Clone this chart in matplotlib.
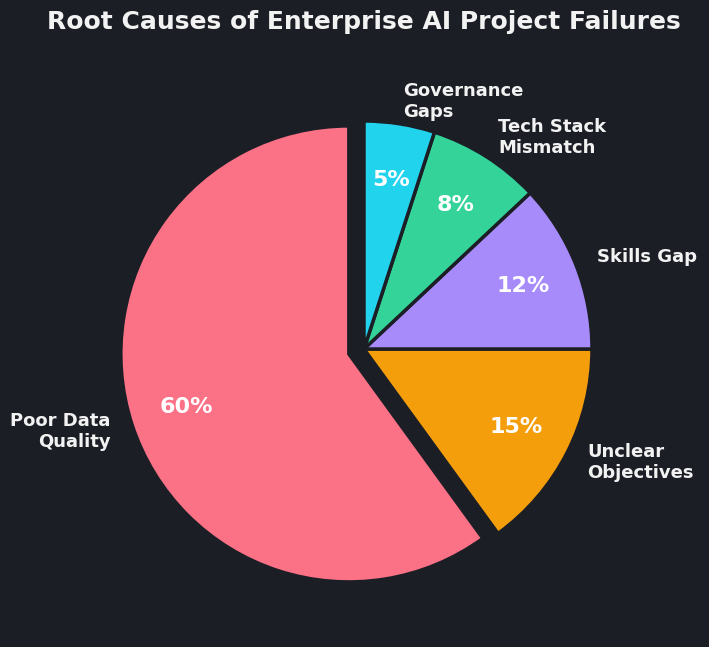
import matplotlib
matplotlib.use("Agg")
import matplotlib.pyplot as plt

# data
causes = ['Poor Data\nQuality', 'Unclear\nObjectives', 'Skills Gap', 'Tech Stack\nMismatch', 'Governance\nGaps']
shares = [60, 15, 12, 8, 5]
colors = ['#fb7185', '#f59e0b', '#a78bfa', '#34d399', '#22d3ee']
explode = [0.07, 0, 0, 0, 0]

bg = '#1b1e25'
txt = '#f2f2f2'

fig = plt.figure(figsize=(7.09, 6.47), dpi=100, facecolor=bg)
# square axes, pie centre near (366, 349) px
w, h = 570 / 709, 570 / 647
ax = fig.add_axes([364 / 709 - w / 2, (647 - 349) / 647 - h / 2, w, h])
ax.set_facecolor(bg)

wedges, labels, pcts = ax.pie(
    shares, labels=causes, colors=colors, explode=explode,
    startangle=90, counterclock=True, autopct='%d%%',
    pctdistance=0.75, labeldistance=1.1,
    wedgeprops=dict(edgecolor=bg, linewidth=2.5),
    textprops=dict(color=txt, fontsize=13, fontweight='bold'))

for p in pcts:
    p.set_fontsize(16)
    p.set_color('white')

fig.text(364 / 709, 1 - 22 / 647, 'Root Causes of Enterprise AI Project Failures',
         ha='center', va='center', color=txt, fontsize=18, fontweight='bold')

fig.savefig('out.png', dpi=100, facecolor=bg)
